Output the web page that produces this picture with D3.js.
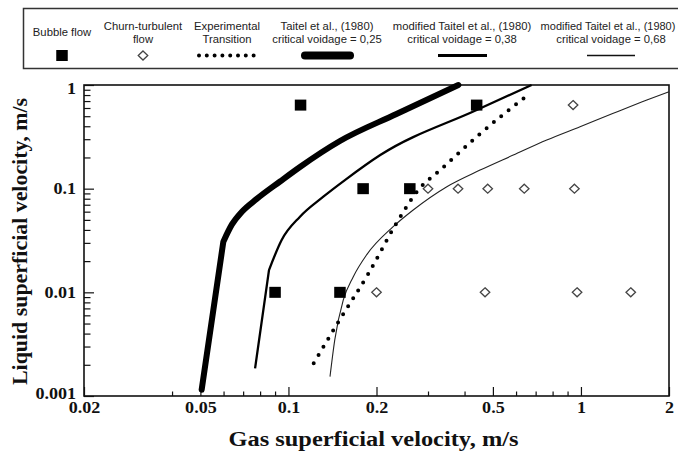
<!DOCTYPE html>
<html>
<head>
<meta charset="utf-8">
<script src="https://cdn.jsdelivr.net/npm/d3@7/dist/d3.min.js"></script>
<style>
  html, body { margin: 0; padding: 0; background: #fff; }
  svg { display: block; }
</style>
</head>
<body>
<svg id="chart" width="678" height="453"></svg>
<script>
// Flow regime map: observed points and transition boundaries (gas vs liquid superficial velocity)
const bubbleFlowX = [0.11, 0.44, 0.18, 0.26, 0.09, 0.15];
const bubbleFlowY = [0.64, 0.64, 0.1, 0.1, 0.01, 0.01];

const churnFlowX = [0.94, 0.30, 0.38, 0.48, 0.64, 0.95, 0.20, 0.47, 0.97, 1.48];
const churnFlowY = [0.64, 0.1, 0.1, 0.1, 0.1, 0.1, 0.01, 0.01, 0.01, 0.01];

// Experimental transition
const experimentalX = [0.122, 0.146, 0.188, 0.234, 0.278, 0.330, 0.440, 0.670];
const experimentalY = [0.00207, 0.00485, 0.0153, 0.0464, 0.0972, 0.151, 0.317, 0.832];

// Taitel et al. (1980), critical voidage 0.25 (straight lower branch, then curved)
const taitel025X = [0.0505, 0.0599, 0.0641, 0.0692, 0.0779, 0.0936, 0.1095, 0.150, 0.234, 0.381];
const taitel025Y = [0.00115, 0.0308, 0.0452, 0.0596, 0.0796, 0.1173, 0.162, 0.2884, 0.5253, 1.0];

// modified Taitel, critical voidage 0.38
const modified038X = [0.0769, 0.0858, 0.0948, 0.1095, 0.1316, 0.156, 0.206, 0.44, 0.678];
const modified038Y = [0.00185, 0.0164, 0.032, 0.0537, 0.0837, 0.121, 0.211, 0.574, 1.0];

// modified Taitel, critical voidage 0.68
const modified068X = [0.1387, 0.144, 0.154, 0.1666, 0.185, 0.228, 0.267, 0.348, 0.452, 0.587, 0.764, 0.993, 1.29, 1.68, 2.0];
const modified068Y = [0.00154, 0.00348, 0.00845, 0.01416, 0.0230, 0.043, 0.0623, 0.1045, 0.151, 0.211, 0.295, 0.396, 0.533, 0.717, 0.862];

// Axis ticks
const xTicksMajor = [0.02, 0.05, 0.1, 0.2, 0.5, 1, 2];
const xTicksMinor = [0.04, 0.06, 0.07, 0.08, 0.09, 0.3, 0.4, 0.6, 0.7, 0.8, 0.9];
const yTicksMajor = [0.001, 0.01, 0.1, 1];
const yTicksMinor = [0.002, 0.003, 0.004, 0.005, 0.006, 0.007, 0.008, 0.009,
                     0.02, 0.03, 0.04, 0.05, 0.06, 0.07, 0.08, 0.09,
                     0.2, 0.3, 0.4, 0.5, 0.6, 0.7, 0.8, 0.9];

const xTitle = "Gas superficial velocity, m/s";
const yTitle = "Liquid superficial velocity, m/s";

// Legend entries
const legendLine1 = ["Bubble flow", "Churn-turbulent", "Experimental", "Taitel et al., (1980)", "modified Taitel et al., (1980)", "modified Taitel et al., (1980)"];
const legendLine2 = ["", "flow", "Transition", "critical voidage = 0,25", "critical voidage = 0,38", "critical voidage = 0,68"];

const zip = (xs, ys) => xs.map((x, i) => [x, ys[i]]);

const svg = d3.select("#chart");
const plot = { left: 84, right: 669, top: 85, bottom: 396 };
const STRETCH = 1.13;
const serif = "'Liberation Serif', 'DejaVu Serif', serif";
const sans = "'Liberation Sans', Arial, sans-serif";

const x = d3.scaleLog().domain([0.02, 2]).range([plot.left, plot.right]);
const y = d3.scaleLog().domain([0.001, 1]).range([plot.bottom, plot.top]);

// ---------- axes ----------
const gx = svg.append("g").attr("transform", `translate(0,${plot.bottom})`)
  .call(d3.axisBottom(x).tickValues(xTicksMajor).tickSize(-9).tickPadding(6).tickFormat(d => String(d)));
svg.append("g").attr("transform", `translate(0,${plot.bottom})`)
  .call(d3.axisBottom(x).tickValues(xTicksMinor).tickSize(-4.5).tickFormat(""));

const gy = svg.append("g").attr("transform", `translate(${plot.left},0)`)
  .call(d3.axisLeft(y).tickValues(yTicksMajor).tickSize(-10).tickPadding(7).tickFormat(d => String(d)));
svg.append("g").attr("transform", `translate(${plot.left},0)`)
  .call(d3.axisLeft(y).tickValues(yTicksMinor).tickSize(-6.5).tickFormat(""));

svg.selectAll(".domain").remove();
svg.selectAll(".tick line").attr("stroke", "#111").attr("stroke-width", 1.2);

gx.selectAll("text")
  .attr("font-family", serif).attr("font-weight", "bold").attr("font-size", 16).attr("fill", "#111")
  .attr("transform", `scale(${STRETCH},1)`);
gy.selectAll("text")
  .attr("font-family", serif).attr("font-weight", "bold").attr("font-size", 16).attr("fill", "#111")
  .attr("transform", d => `translate(0,${d === 1 ? 3 : d === 0.001 ? -3 : 0}) scale(${STRETCH},1)`);

// frame
svg.append("rect")
  .attr("x", plot.left).attr("y", plot.top)
  .attr("width", plot.right - plot.left).attr("height", plot.bottom - plot.top)
  .attr("fill", "none").attr("stroke", "#111").attr("stroke-width", 1.6);

// axis titles
svg.append("text")
  .attr("x", (plot.left + plot.right) / 2 - 3).attr("y", 446)
  .attr("text-anchor", "middle")
  .attr("font-family", serif).attr("font-weight", "bold").attr("font-size", 20).attr("fill", "#111")
  .attr("textLength", 290).attr("lengthAdjust", "spacingAndGlyphs")
  .text(xTitle);

svg.append("text")
  .attr("transform", "translate(27,241.5) rotate(-90)")
  .attr("text-anchor", "middle")
  .attr("font-family", serif).attr("font-weight", "bold").attr("font-size", 20).attr("fill", "#111")
  .attr("textLength", 287).attr("lengthAdjust", "spacingAndGlyphs")
  .text(yTitle);

// ---------- curves ----------
const smooth = d3.line().x(d => x(d[0])).y(d => y(d[1])).curve(d3.curveMonotoneX);

// straight lower branch from the first point to the second, smooth curve after
function brokenPath(pts) {
  const upper = smooth(pts.slice(1));
  return `M${x(pts[0][0])},${y(pts[0][1])}L` + upper.slice(1);
}

const curves = svg.append("g");

curves.append("path")
  .attr("d", brokenPath(zip(taitel025X, taitel025Y)))
  .attr("fill", "none").attr("stroke", "#000").attr("stroke-width", 6)
  .attr("stroke-linecap", "round").attr("stroke-linejoin", "round");

curves.append("path")
  .attr("d", brokenPath(zip(modified038X, modified038Y)))
  .attr("fill", "none").attr("stroke", "#000").attr("stroke-width", 2.3)
  .attr("stroke-linejoin", "round");

curves.append("path")
  .attr("d", smooth(zip(modified068X, modified068Y)))
  .attr("fill", "none").attr("stroke", "#222").attr("stroke-width", 1.1);

curves.append("path")
  .attr("d", smooth(zip(experimentalX, experimentalY)))
  .attr("fill", "none").attr("stroke", "#000").attr("stroke-width", 4)
  .attr("stroke-linecap", "round").attr("stroke-dasharray", "0 9.5");

// ---------- points ----------
const SQ_W = 11.5, SQ_H = 11;
svg.append("g").selectAll("rect")
  .data(zip(bubbleFlowX, bubbleFlowY))
  .join("rect")
  .attr("x", d => x(d[0]) - SQ_W / 2).attr("y", d => y(d[1]) - SQ_H / 2)
  .attr("width", SQ_W).attr("height", SQ_H).attr("fill", "#000");

const diamond = (cx, cy, w, h) => `M${cx},${cy - h / 2}L${cx + w / 2},${cy}L${cx},${cy + h / 2}L${cx - w / 2},${cy}Z`;
svg.append("g").selectAll("path")
  .data(zip(churnFlowX, churnFlowY))
  .join("path")
  .attr("d", d => diamond(x(d[0]), y(d[1]), 9.5, 9))
  .attr("fill", "#fff").attr("stroke", "#444").attr("stroke-width", 1.3);

// ---------- legend ----------
const legend = svg.append("g");
legend.append("rect")
  .attr("x", 23.5).attr("y", 8.5).attr("width", 680).attr("height", 60)
  .attr("fill", "#fff").attr("stroke", "#333").attr("stroke-width", 1.5);

const legendCenters = [62, 143, 227, 327, 462, 608];
const markerY = 55.5;

legendLine1.forEach((t, i) => {
  const cx = legendCenters[i];
  const single = legendLine2[i] === "";
  legend.append("text")
    .attr("transform", `translate(${cx},${single ? 36 : 29.5}) scale(${i === 5 ? 1.1 : STRETCH},1)`)
    .attr("text-anchor", "middle")
    .attr("font-family", sans).attr("font-size", 10).attr("fill", "#222")
    .text(t);
  if (!single) {
    legend.append("text")
      .attr("transform", `translate(${i === 5 ? 611 : cx},42.5) scale(${STRETCH},1)`)
      .attr("text-anchor", "middle")
      .attr("font-family", sans).attr("font-size", 10).attr("fill", "#222")
      .text(legendLine2[i]);
  }
});

legend.append("rect")
  .attr("x", legendCenters[0] - SQ_W / 2).attr("y", markerY - SQ_H / 2)
  .attr("width", SQ_W).attr("height", SQ_H).attr("fill", "#000");
legend.append("path")
  .attr("d", diamond(legendCenters[1], markerY, 9.5, 9))
  .attr("fill", "#fff").attr("stroke", "#444").attr("stroke-width", 1.3);
legend.append("line")
  .attr("x1", 199).attr("x2", 254).attr("y1", markerY).attr("y2", markerY)
  .attr("stroke", "#000").attr("stroke-width", 4).attr("stroke-linecap", "round")
  .attr("stroke-dasharray", "0 7.8");
legend.append("line")
  .attr("x1", 305).attr("x2", 350).attr("y1", markerY).attr("y2", markerY)
  .attr("stroke", "#000").attr("stroke-width", 8).attr("stroke-linecap", "round");
legend.append("line")
  .attr("x1", 438).attr("x2", 487).attr("y1", markerY).attr("y2", markerY)
  .attr("stroke", "#000").attr("stroke-width", 3);
legend.append("line")
  .attr("x1", 587).attr("x2", 635).attr("y1", markerY).attr("y2", markerY)
  .attr("stroke", "#111").attr("stroke-width", 1.3);
</script>
</body>
</html>
